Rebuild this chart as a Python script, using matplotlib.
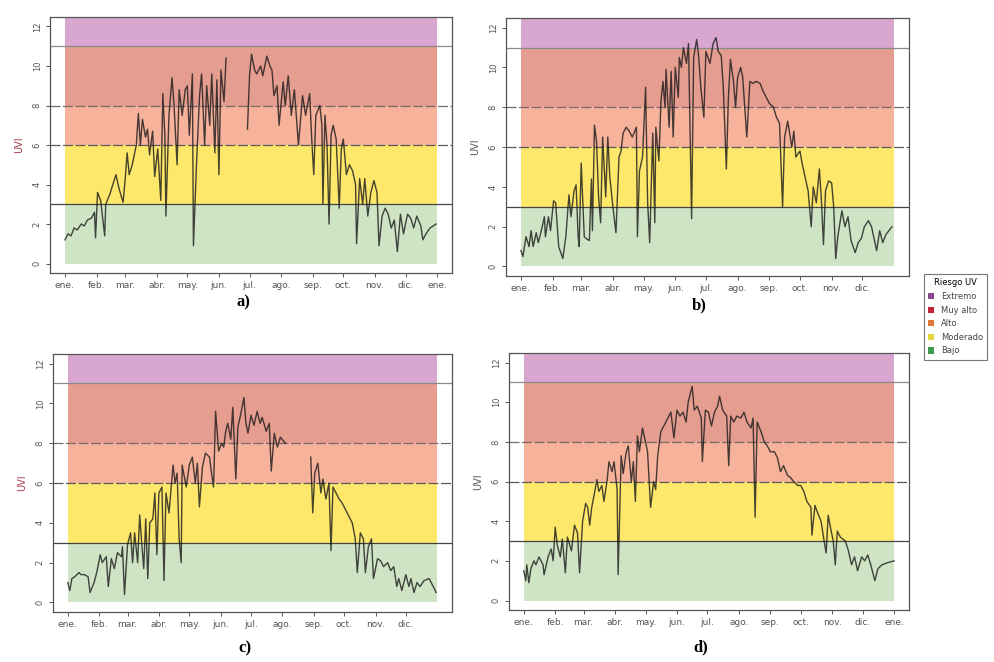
import numpy as np
import matplotlib
matplotlib.use("Agg")
import matplotlib.pyplot as plt
from matplotlib.patches import Patch

# Datos (dia del ano, UVI)
nan = np.nan

dias_a = [0, 3, 6, 9, 12, 16, 19, 22, 26, 29, 30, 32, 35, 39, 40, 44, 47, 50, 53, 57,
          59, 61, 63, 66, 70, 72, 74, 76, 79, 81, 83, 86, 88, 91, 94, 96, 98, 99, 102, 105,
          107, 110, 112, 115, 118, 120, 122, 125, 126, 129, 132, 134, 137, 139, 142, 144, 147, 149, 151, 153,
          156, 158, 168, 179, 181, 183, 186, 188, 192, 194, 198, 201, 203, 205, 208, 210, 214, 216, 219, 222,
          225, 229, 233, 236, 240, 242, 244, 246, 250, 252, 253, 255, 257, 259, 261, 263, 266, 269, 271, 273,
          276, 279, 282, 285, 286, 289, 292, 294, 297, 300, 303, 306, 308, 311, 314, 317, 320, 323, 326, 329,
          332, 336, 339, 342, 345, 349, 351, 354, 358, 364]
uvi_a = [1.2, 1.5, 1.4, 1.8, 1.7, 2.0, 1.9, 2.2, 2.3, 2.6, 1.3, 3.6, 3.2, 1.4, 3.0, 3.5, 4.0, 4.5, 3.8, 3.1,
         4.2, 5.6, 4.5, 5.0, 6.0, 7.6, 6.0, 7.3, 6.4, 6.8, 5.5, 6.7, 4.4, 5.8, 3.2, 8.6, 6.5, 2.4, 7.5, 9.4,
         8.0, 5.0, 8.8, 7.5, 8.8, 9.0, 6.5, 9.6, 0.9, 5.0, 8.5, 9.6, 6.0, 9.0, 7.0, 9.6, 5.6, 9.3, 4.5, 9.8,
         8.2, 10.4, nan, 6.8, 9.5, 10.6, 9.8, 9.6, 10.0, 9.5, 10.5, 10.0, 9.8, 8.5, 9.0, 7.0, 9.2, 8.0, 9.5, 7.5,
         8.8, 6.0, 8.5, 7.5, 8.6, 6.3, 4.5, 7.5, 8.0, 7.0, 3.0, 7.5, 6.0, 2.0, 6.5, 7.0, 6.3, 2.8, 5.8, 6.3,
         4.5, 5.0, 4.7, 4.0, 1.0, 4.3, 3.0, 4.3, 2.4, 3.6, 4.2, 3.6, 0.9, 2.4, 2.8, 2.5, 1.8, 2.2, 0.6, 2.5,
         1.5, 2.5, 2.3, 1.8, 2.4, 1.9, 1.2, 1.5, 1.8, 2.0]

dias_b = [0, 2, 5, 8, 10, 12, 15, 17, 20, 23, 24, 27, 29, 32, 34, 37, 39, 41, 44, 47,
          49, 52, 54, 56, 57, 59, 62, 64, 67, 69, 70, 72, 74, 76, 78, 80, 83, 85, 87, 90,
          93, 96, 98, 100, 103, 106, 109, 113, 114, 116, 119, 122, 124, 126, 129, 131, 132, 135, 137, 139,
          141, 142, 145, 147, 149, 151, 154, 155, 157, 159, 162, 164, 167, 169, 172, 174, 176, 179, 181, 185,
          188, 191, 193, 196, 198, 201, 203, 205, 208, 210, 212, 215, 217, 221, 224, 227, 230, 234, 237, 240,
          243, 247, 250, 253, 256, 258, 261, 265, 267, 269, 273, 275, 278, 281, 284, 286, 289, 292, 294, 296,
          298, 301, 304, 306, 308, 310, 314, 317, 320, 323, 327, 330, 333, 336, 340, 343, 348, 351, 354, 357,
          363]
uvi_b = [0.8, 0.5, 1.5, 1.0, 1.8, 1.0, 1.7, 1.2, 1.8, 2.5, 1.5, 2.5, 1.8, 3.3, 3.2, 1.0, 0.7, 0.4, 1.5, 3.6,
         2.5, 3.8, 4.1, 1.5, 1.0, 5.2, 1.5, 1.4, 1.3, 4.4, 1.8, 7.1, 6.3, 3.5, 2.2, 6.5, 3.5, 6.5, 4.5, 3.0,
         1.7, 5.5, 5.8, 6.7, 7.0, 6.8, 6.5, 7.0, 1.5, 4.8, 5.5, 9.0, 3.2, 1.2, 6.7, 2.2, 7.0, 5.3, 8.3, 9.3,
         8.0, 9.9, 7.0, 9.8, 6.5, 10.0, 8.5, 10.5, 10.0, 11.0, 10.2, 11.2, 2.4, 10.5, 11.4, 10.5, 9.0, 7.5, 10.8, 10.2,
         11.2, 11.5, 10.8, 10.6, 9.0, 4.9, 8.5, 10.4, 9.3, 8.0, 9.5, 10.0, 9.5, 6.5, 9.3, 9.2, 9.3, 9.2, 8.8, 8.5,
         8.2, 8.0, 7.5, 7.2, 3.0, 6.5, 7.3, 6.0, 6.8, 5.5, 5.8, 5.2, 4.5, 3.8, 2.0, 4.0, 3.2, 4.9, 3.3, 1.1,
         3.8, 4.3, 4.2, 3.0, 0.4, 1.5, 2.8, 2.0, 2.5, 1.3, 0.7, 1.2, 1.4, 2.0, 2.3, 2.0, 0.8, 1.8, 1.2, 1.6,
         2.0]

dias_c = [0, 2, 4, 7, 11, 13, 16, 20, 22, 26, 29, 32, 34, 38, 40, 43, 46, 49, 53, 54,
          56, 59, 62, 64, 66, 69, 71, 73, 75, 77, 79, 81, 84, 86, 88, 90, 93, 95, 97, 100,
          104, 106, 108, 110, 112, 113, 117, 120, 123, 126, 128, 130, 133, 136, 140, 142, 144, 146, 149, 152,
          154, 156, 158, 161, 163, 166, 168, 171, 174, 176, 178, 181, 184, 187, 190, 192, 196, 199, 201, 204,
          207, 210, 215, 228, 240, 242, 244, 247, 250, 252, 255, 258, 260, 262, 265, 268, 271, 274, 278, 281,
          284, 286, 289, 292, 294, 297, 300, 302, 306, 309, 312, 316, 319, 322, 325, 327, 330, 334, 337, 339,
          342, 345, 348, 352, 357, 360, 364]
uvi_c = [1.0, 0.6, 1.2, 1.3, 1.5, 1.4, 1.4, 1.3, 0.5, 1.0, 1.6, 2.4, 2.0, 2.3, 0.8, 2.2, 1.7, 2.5, 2.3, 2.8,
         0.4, 2.9, 3.5, 2.0, 3.5, 2.0, 4.4, 3.0, 1.7, 4.2, 1.2, 4.0, 4.2, 5.5, 2.4, 5.5, 5.8, 1.1, 5.5, 4.5,
         6.9, 6.0, 6.5, 3.2, 2.0, 6.9, 5.8, 6.9, 7.3, 6.0, 7.0, 4.8, 6.8, 7.5, 7.3, 6.5, 5.8, 9.6, 7.6, 8.0,
         7.8, 8.6, 9.0, 8.2, 9.8, 6.2, 8.8, 9.5, 10.3, 9.0, 8.5, 9.4, 8.9, 9.6, 9.0, 9.3, 8.6, 9.0, 6.6, 8.5,
         7.8, 8.3, 8.0, nan, 7.3, 4.5, 6.5, 7.0, 5.5, 6.2, 5.2, 6.0, 2.6, 5.8, 5.5, 5.2, 5.0, 4.7, 4.3, 4.0,
         3.2, 1.5, 3.5, 3.2, 1.5, 2.8, 3.2, 1.2, 2.2, 2.1, 1.8, 2.0, 1.6, 1.8, 0.8, 1.2, 0.6, 1.4, 0.8, 1.2,
         0.5, 1.0, 0.8, 1.1, 1.2, 0.9, 0.5]

dias_d = [0, 2, 3, 5, 7, 10, 12, 15, 19, 20, 24, 27, 29, 31, 33, 36, 38, 41, 43, 47,
          50, 53, 55, 58, 61, 63, 65, 67, 70, 72, 74, 77, 79, 82, 84, 87, 89, 92, 93, 96,
          98, 101, 103, 106, 108, 110, 112, 114, 117, 120, 122, 125, 128, 130, 132, 135, 138, 142, 145, 148,
          151, 154, 157, 160, 162, 166, 168, 171, 175, 176, 179, 182, 185, 188, 191, 193, 196, 200, 202, 204,
          207, 210, 214, 217, 220, 224, 226, 228, 230, 234, 237, 240, 243, 247, 250, 253, 256, 260, 263, 266,
          270, 273, 276, 279, 283, 284, 287, 289, 293, 296, 298, 300, 303, 305, 307, 309, 312, 317, 320, 323,
          326, 329, 333, 336, 339, 342, 346, 349, 353, 358, 365]
uvi_d = [1.5, 1.0, 1.8, 0.9, 1.6, 2.0, 1.8, 2.2, 1.8, 1.3, 2.2, 2.6, 2.0, 3.7, 2.8, 2.2, 3.1, 1.4, 3.2, 2.5,
         3.8, 3.4, 1.4, 4.0, 4.9, 4.7, 3.8, 4.7, 5.5, 6.1, 5.5, 5.8, 5.0, 6.0, 7.0, 6.5, 7.0, 5.6, 1.3, 7.3,
         6.4, 7.5, 7.8, 6.0, 7.0, 5.0, 8.3, 7.5, 8.7, 8.0, 7.5, 4.7, 6.0, 5.6, 7.3, 8.5, 8.8, 9.2, 9.5, 8.2,
         9.6, 9.3, 9.5, 9.0, 10.0, 10.8, 9.6, 9.8, 9.2, 7.0, 9.6, 9.5, 8.8, 9.5, 9.8, 10.3, 9.6, 9.3, 6.8, 9.3,
         9.0, 9.3, 9.2, 9.5, 9.0, 8.7, 9.2, 4.2, 9.0, 8.5, 8.0, 7.8, 7.5, 7.5, 7.2, 6.5, 6.8, 6.3, 6.2, 6.0,
         5.8, 5.8, 5.5, 5.0, 4.7, 3.3, 4.8, 4.5, 4.0, 3.0, 2.4, 4.3, 3.5, 3.0, 1.8, 3.5, 3.2, 3.0, 2.5, 1.8,
         2.2, 1.5, 2.2, 2.0, 2.3, 1.8, 1.0, 1.6, 1.8, 1.9, 2.0]

meses_dias = [0, 31, 59, 90, 120, 151, 181, 212, 243, 273, 304, 334, 365]
meses = ["ene.", "feb.", "mar.", "abr.", "may.", "jun.", "jul.", "ago.", "sep.", "oct.", "nov.", "dic.", "ene."]

niveles = ["Extremo", "Muy alto", "Alto", "Moderado", "Bajo"]
limites = [(11, 12.48), (8, 11), (6, 8), (3, 6), (0, 3)]
col_banda = ["#d8a6cf", "#e59d8f", "#f6b29b", "#fde86c", "#cfe4c5"]
col_leyenda = ["#8a4a8c", "#c2263a", "#e07a3a", "#e6d640", "#3f9a52"]

# (dias, uvi, etiqueta, posicion ejes, n ticks, color ylabel, y etiqueta)
paneles = [
    (dias_a, uvi_a, "a)", [0.0503, 0.5876, 0.404, 0.3867], 13, "#a03848", 0.543),
    (dias_b, uvi_b, "b)", [0.5085, 0.5830, 0.405, 0.3897], 12, "#555555", 0.539),
    (dias_c, uvi_c, "c)", [0.0533, 0.0755, 0.401, 0.3897], 12, "#a03848", 0.020),
    (dias_d, uvi_d, "d)", [0.5115, 0.0785, 0.402, 0.3882], 13, "#555555", 0.022),
]

fig = plt.figure(figsize=(9.95, 6.62), dpi=100)

for dias, uvi, etiqueta, pos, nticks, col_y, y_et in paneles:
    ax = fig.add_axes(pos)
    for (y0, y1), c in zip(limites, col_banda):
        ax.fill_between([0, 365], y0, y1, color=c, lw=0, zorder=0)
    ax.axhline(11, color="#8a8a8a", lw=0.9, zorder=1)
    ax.axhline(8, color="#7a6a6a", lw=0.9, ls=(0, (8, 2)), zorder=1)
    ax.axhline(6, color="#5a5a5a", lw=0.9, ls=(0, (8, 2)), zorder=1)
    ax.axhline(3, color="#444444", lw=0.9, zorder=1)
    ax.plot(dias, uvi, color="#1a1a1a", lw=1.0, alpha=0.8, zorder=2)

    ax.set_xlim(-14.6, 379.6)
    ax.set_ylim(-0.48, 12.48)
    ax.set_xticks(meses_dias[:nticks])
    ax.set_xticklabels(meses[:nticks], fontsize=6.5, color="#555555")
    ax.set_yticks([0, 2, 4, 6, 8, 10, 12])
    ax.set_yticklabels(["0", "2", "4", "6", "8", "10", "12"], fontsize=6, color="#555555",
                       rotation=90, va="center")
    ax.tick_params(length=3, width=0.7, color="#555555", pad=3)
    for s in ax.spines.values():
        s.set_color("#555555")
        s.set_linewidth(0.9)
    ax.set_ylabel("UVI", fontsize=7, color=col_y, labelpad=6)

    fig.text(pos[0] + pos[2] * 0.48, y_et, etiqueta, ha="center", va="center",
             fontsize=12, fontweight="bold", family="Liberation Serif")

# Leyenda
handles = [Patch(facecolor=c, edgecolor="none") for c in col_leyenda]
leg = fig.legend(handles, niveles, title="Riesgo UV", loc="upper left",
                 bbox_to_anchor=(0.924, 0.592), fontsize=6, title_fontsize=6,
                 frameon=True, fancybox=False, edgecolor="#555555",
                 handlelength=0.8, handleheight=0.8, handletextpad=0.8,
                 labelspacing=0.55, borderpad=0.5)
leg.get_frame().set_linewidth(0.8)
for t in leg.get_texts():
    t.set_color("#444444")

fig.savefig("out.png", dpi=100)
